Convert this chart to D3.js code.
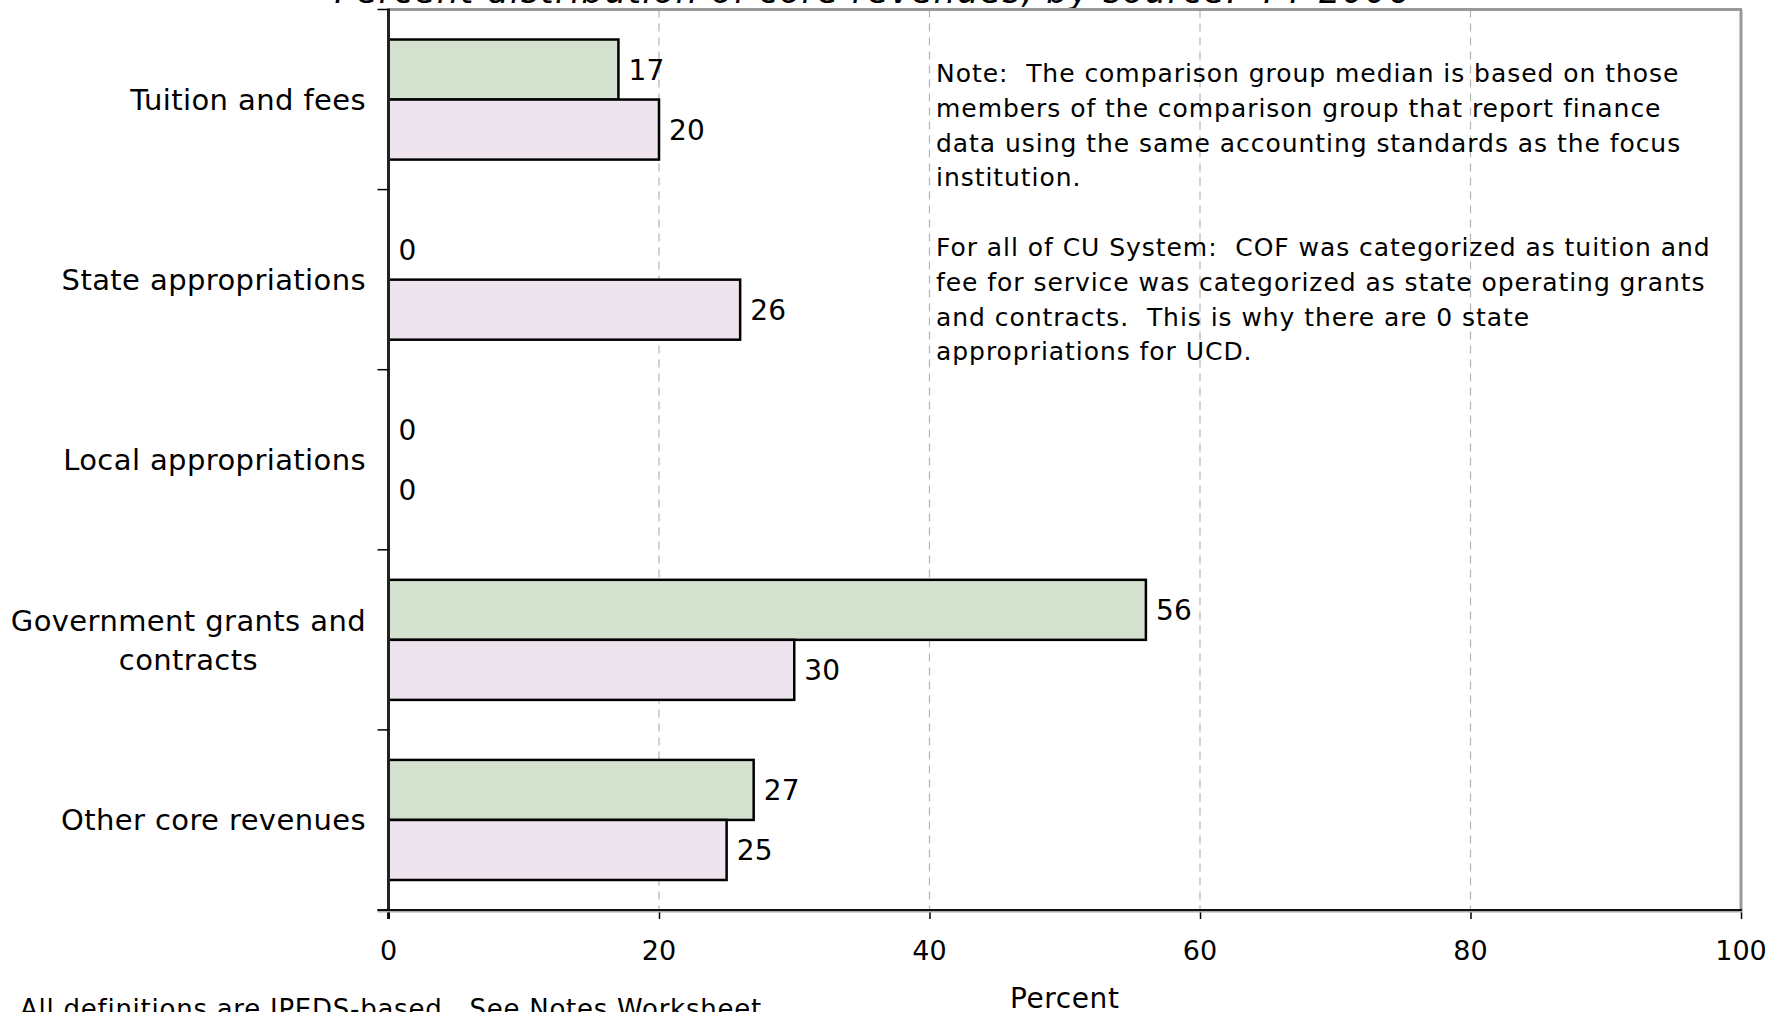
<!DOCTYPE html>
<html>
<head>
<meta charset="utf-8">
<script src="https://cdn.jsdelivr.net/npm/d3@7"></script>
<style>
  html, body { margin: 0; padding: 0; background: #fff; }
  svg { display: block; font-family: "DejaVu Sans", Verdana, sans-serif; }
  svg text { white-space: pre; }
</style>
</head>
<body>
<svg id="chart" width="1772" height="1012"></svg>
<script>
// Revenue sources (rows) and the two compared series
const categories = [
  "Tuition and fees",
  "State appropriations",
  "Local appropriations",
  "Government grants and\ncontracts",
  "Other core revenues"
];
const seriesNames = ["Focus institution", "Comparison group median"];
const focusValues = [17, 0, 0, 56, 27];
const medianValues = [20, 26, 0, 30, 25];
const seriesColors = ["#d5e1cf", "#eee4ee"];
const xTicks = [0, 20, 40, 60, 80, 100];

const titleText = "Percent distribution of core revenues, by source:  FY 2006";
const axisTitle = "Percent";
const footnote = "All definitions are IPEDS-based.  See Notes Worksheet.";
const noteLines = [
  "Note:  The comparison group median is based on those",
  "members of the comparison group that report finance",
  "data using the same accounting standards as the focus",
  "institution.",
  "",
  "For all of CU System:  COF was categorized as tuition and",
  "fee for service was categorized as state operating grants",
  "and contracts.  This is why there are 0 state",
  "appropriations for UCD."
];

const svg = d3.select("#chart");
const plot = { left: 388.5, right: 1741, top: 9.5, bottom: 910 };

const x = d3.scaleLinear().domain([0, 100]).range([plot.left, plot.right]);
const y = d3.scaleBand().domain(d3.range(categories.length)).range([plot.top, plot.bottom]).padding(0);
const ySub = d3.scaleBand().domain([0, 1]).range([0, y.bandwidth()]).paddingInner(0).paddingOuter(0.5);

const rows = categories.map((c, i) => ({
  name: c,
  i,
  values: [focusValues[i], medianValues[i]]
}));

// Title (sits mostly above the visible page)
svg.append("text")
  .attr("x", 873).attr("y", 3)
  .attr("text-anchor", "middle")
  .attr("font-size", 34)
  .attr("letter-spacing", 1.5)
  .attr("font-style", "italic")
  .attr("fill", "#000")
  .text(titleText);

// Vertical dashed gridlines
svg.append("g")
  .selectAll("line")
  .data(xTicks.filter(t => t > 0 && t < 100))
  .join("line")
  .attr("x1", d => x(d)).attr("x2", d => x(d))
  .attr("y1", plot.top).attr("y2", plot.bottom)
  .attr("stroke", "#b4b4b4")
  .attr("stroke-width", 1.2)
  .attr("stroke-dasharray", "8,6");

// Plot frame: gray top and right edges
svg.append("line")
  .attr("x1", plot.left).attr("x2", plot.right + 1)
  .attr("y1", plot.top).attr("y2", plot.top)
  .attr("stroke", "#999").attr("stroke-width", 3);
svg.append("line")
  .attr("x1", plot.right).attr("x2", plot.right)
  .attr("y1", plot.top).attr("y2", plot.bottom)
  .attr("stroke", "#999").attr("stroke-width", 3);

// Bars
const groups = svg.append("g")
  .selectAll("g")
  .data(rows)
  .join("g")
  .attr("transform", d => `translate(0,${y(d.i)})`);

groups.selectAll("rect")
  .data(d => d.values.map((v, k) => ({ v, k })).filter(e => e.v > 0))
  .join("rect")
  .attr("x", x(0))
  .attr("y", e => ySub(e.k))
  .attr("width", e => x(e.v) - x(0))
  .attr("height", ySub.bandwidth())
  .attr("fill", e => seriesColors[e.k])
  .attr("stroke", "#000")
  .attr("stroke-width", 2.5);

// Value labels
groups.selectAll("text.val")
  .data(d => d.values.map((v, k) => ({ v, k })))
  .join("text")
  .attr("class", "val")
  .attr("x", e => x(e.v) + 10)
  .attr("y", e => ySub(e.k) + ySub.bandwidth() / 2)
  .attr("dy", "0.36em")
  .attr("font-size", 28)
  .attr("letter-spacing", 0.3)
  .attr("fill", "#000")
  .text(e => e.v);

// Left axis line and boundary ticks
const boundaries = d3.range(categories.length + 1).map(i => plot.top + i * y.step());
svg.append("line")
  .attr("x1", plot.left).attr("x2", plot.left)
  .attr("y1", plot.top - 1).attr("y2", plot.bottom + 9)
  .attr("stroke", "#222").attr("stroke-width", 3);
svg.append("g")
  .selectAll("line")
  .data(boundaries)
  .join("line")
  .attr("x1", plot.left - 11).attr("x2", plot.left)
  .attr("y1", d => d).attr("y2", d => d)
  .attr("stroke", "#000").attr("stroke-width", 1.5);

// Bottom axis
const xAxis = d3.axisBottom(x).tickValues(xTicks).tickSize(9).tickFormat("");
const xg = svg.append("g").attr("transform", `translate(0,${plot.bottom})`).call(xAxis);
xg.select(".domain").remove();
xg.selectAll(".tick line").attr("stroke", "#000").attr("stroke-width", 1.5);
svg.append("line")
  .attr("x1", plot.left - 11).attr("x2", plot.right + 1)
  .attr("y1", plot.bottom + 1.5).attr("y2", plot.bottom + 1.5)
  .attr("stroke", "#aaa").attr("stroke-width", 2);
svg.append("line")
  .attr("x1", plot.left - 11).attr("x2", plot.right + 1)
  .attr("y1", plot.bottom).attr("y2", plot.bottom)
  .attr("stroke", "#111").attr("stroke-width", 2);

svg.append("g")
  .selectAll("text")
  .data(xTicks)
  .join("text")
  .attr("x", d => x(d))
  .attr("y", 960)
  .attr("text-anchor", "middle")
  .attr("font-size", 27)
  .attr("fill", "#000")
  .text(d => d);

// Category labels (multi-line labels are centred on their widest line)
const labelRight = 366;
svg.append("g")
  .selectAll("g")
  .data(rows)
  .join("g")
  .each(function(d) {
    const lines = d.name.split("\n");
    const g = d3.select(this);
    const cy = y(d.i) + y.bandwidth() / 2;
    const lh = 39;
    const texts = lines.map((ln, j) => g.append("text")
      .attr("y", cy + (j - (lines.length - 1) / 2) * lh)
      .attr("dy", "0.36em")
      .attr("font-size", 29)
      .attr("letter-spacing", 0.4)
      .attr("fill", "#000")
      .text(ln));
    const w = d3.max(texts, t => t.node().getComputedTextLength());
    texts.forEach(t => t.attr("x", labelRight - w / 2).attr("text-anchor", "middle"));
  });

// Axis title
svg.append("text")
  .attr("x", (plot.left + plot.right) / 2)
  .attr("y", 1008)
  .attr("text-anchor", "middle")
  .attr("font-size", 28)
  .attr("letter-spacing", 0.6)
  .attr("fill", "#000")
  .text(axisTitle);

// Footnote (bottom-left, partly below the page edge)
svg.append("text")
  .attr("x", 20).attr("y", 1018)
  .attr("font-size", 26)
  .attr("letter-spacing", 0.75)
  .attr("fill", "#000")
  .text(footnote);

// Note text block
svg.append("g")
  .selectAll("text")
  .data(noteLines)
  .join("text")
  .attr("x", 936)
  .attr("y", (d, i) => 82 + i * 34.8)
  .attr("font-size", 25)
  .attr("letter-spacing", 0.95)
  .attr("fill", "#000")
  .text(d => d);
</script>
</body>
</html>
